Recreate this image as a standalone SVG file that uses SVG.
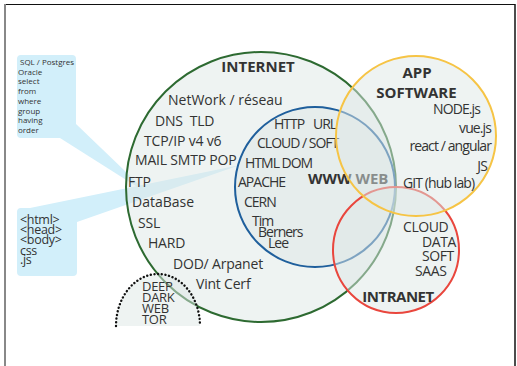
<svg xmlns="http://www.w3.org/2000/svg" width="517" height="366" viewBox="0 0 517 366">
  <style>
    text { font-family: "Open Sans", "DejaVu Sans", sans-serif; fill: #333; }
    .t14 { font-size: 14px; letter-spacing: -0.2px; }
    .w14 { font-size: 14px; letter-spacing: -1px; }
    .a14 { font-size: 14px; letter-spacing: -0.9px; }
    .i14 { font-size: 14px; letter-spacing: -0.4px; }
    .b15 { font-size: 15px; font-weight: bold; }
    .s8 { font-size: 8px; }
    .c12 { font-size: 12.5px; letter-spacing: -0.3px; }
    .d13 { font-size: 13px; letter-spacing: -0.3px; }
    .disc { fill: #dde7e5; fill-opacity: 0.5; stroke-width: 2; }
    .callout { fill: #d2effa; }
  </style>

  <g id="frame">
    <line x1="5" y1="4.5" x2="515" y2="4.5" stroke="#111" stroke-width="1.2"/>
    <line x1="5" y1="4" x2="5" y2="366" stroke="#888" stroke-width="2"/>
    <line x1="515" y1="4" x2="515" y2="366" stroke="#111" stroke-width="1.5"/>
  </g>

  <g id="connectors"></g>

  <g id="callout-sql">
    <path class="callout" d="M21,55 H72 Q76,55 76,59 V124 L150,195 L60,138 H21 Q17,138 17,134 V59 Q17,55 21,55 Z"/>
    <text class="s8" x="20" y="65"> SQL / Postgres</text>
    <text class="s8" x="18" y="74.7">Oracle</text>
    <text class="s8" x="18" y="84.4">select</text>
    <text class="s8" x="18" y="94.1">from</text>
    <text class="s8" x="18" y="103.8">where</text>
    <text class="s8" x="18" y="113.5">group</text>
    <text class="s8" x="18" y="123.2">having</text>
    <text class="s8" x="18" y="132.9">order</text>
  </g>

  <g id="callout-html">
    <path class="callout" d="M21,208 H30 L240,165 L77,222 V272 Q77,276 73,276 H21 Q17,276 17,272 V212 Q17,208 21,208 Z"/>
    <text class="c12" x="20" y="224">&lt;html&gt;</text>
    <text class="c12" x="20" y="234">&lt;head&gt;</text>
    <text class="c12" x="20" y="243.5">&lt;body&gt;</text>
    <text class="c12" x="20" y="254.5">css</text>
    <text class="c12" x="20" y="264">.js</text>
  </g>

  <g id="internet">
    <circle class="disc" cx="261" cy="187" r="135" stroke="#2d6a31"/>
    <text class="b15" x="258" y="72" text-anchor="middle">INTERNET</text>
    <text class="t14" x="168" y="105" style="letter-spacing:0">NetWork / réseau</text>
    <text class="t14" x="155" y="126" xml:space="preserve">DNS  TLD</text>
    <text class="t14" x="144" y="146">TCP/IP v4 v6</text>
    <text class="t14" x="135" y="165">MAIL SMTP POP</text>
    <text class="t14" x="128" y="187">FTP</text>
    <text class="t14" x="132" y="207" style="letter-spacing:0">DataBase</text>
    <text class="t14" x="138" y="228">SSL</text>
    <text class="t14" x="148" y="248">HARD</text>
    <text class="t14" x="173" y="269">DOD/ Arpanet</text>
    <text class="t14" x="196" y="289">Vint Cerf</text>
  </g>

  <g id="www">
    <circle class="disc" cx="315" cy="187" r="80" stroke="#1f5f9c"/>
    <text class="w14" x="274" y="129">HTTP</text>
    <text class="w14" x="313" y="129">URL</text>
    <text class="w14" x="257" y="148">CLOUD / SOFT</text>
    <text class="w14" x="245" y="168">HTML DOM</text>
    <text class="w14" x="238" y="187">APACHE</text>
    <text class="w14" x="244" y="207">CERN</text>
    <text class="w14" x="252" y="226">Tim</text>
    <text class="w14" x="258" y="237">Berners</text>
    <text class="w14" x="268" y="248">Lee</text>
    <text class="b15" x="308" y="184">WWW WEB</text>
  </g>

  <g id="darkweb">
    <path d="M116,326 A42,52 0 0 1 200,326 Z" fill="#dde7e5" fill-opacity="0.5"/>
    <path d="M116,326 A42,52 0 0 1 200,326" fill="none" stroke="#111" stroke-width="2.4" stroke-dasharray="0.1 3.6" stroke-linecap="round"/>
    <text class="d13" x="142" y="291">DEEP</text>
    <text class="d13" x="142" y="302">DARK</text>
    <text class="d13" x="142" y="313">WEB</text>
    <text class="d13" x="142" y="324">TOR</text>
  </g>

  <g id="intranet">
    <circle class="disc" cx="396" cy="250" r="63" stroke="#e9463d"/>
    <text class="i14" x="403" y="232">CLOUD</text>
    <text class="i14" x="422" y="246.5">DATA</text>
    <text class="i14" x="422" y="261">SOFT</text>
    <text class="i14" x="415" y="276">SAAS</text>
    <text class="b15" x="398" y="302" text-anchor="middle" style="letter-spacing:-0.5px">INTRANET</text>
  </g>

  <g id="app">
    <circle class="disc" cx="416" cy="136" r="80" stroke="#f6c445"/>
    <text class="b15" x="417" y="78" text-anchor="middle">APP</text>
    <text class="b15" x="416.5" y="98" text-anchor="middle">SOFTWARE</text>
    <text class="a14" x="480" y="114" text-anchor="end">NODE.js</text>
    <text class="a14" x="491" y="133" text-anchor="end">vue.js</text>
    <text class="a14" x="491" y="151" text-anchor="end">react / angular</text>
    <text class="a14" x="487" y="171" text-anchor="end">JS</text>
    <text class="a14" x="403" y="188">GIT (hub lab)</text>
  </g>
</svg>
